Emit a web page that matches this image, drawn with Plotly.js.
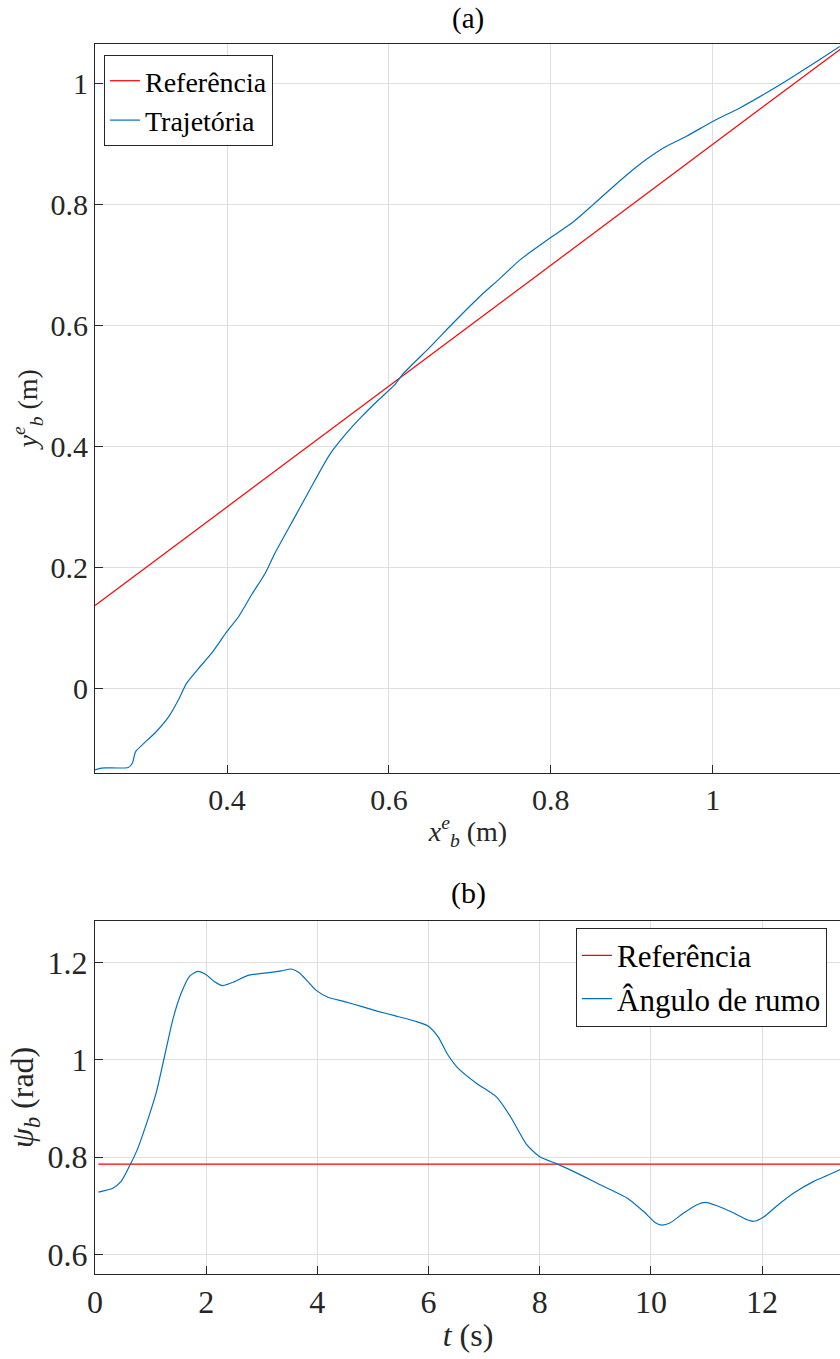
<!DOCTYPE html>
<html>
<head>
<meta charset="utf-8">
<script src="https://cdn.plot.ly/plotly-3.0.1.min.js"></script>
<style>
html,body{margin:0;padding:0;overflow:hidden;background:#fff;}
#chart{width:850px;height:1359px;}
</style>
</head>
<body>
<div id="chart"></div>
<script>
// (a) Trajectory in the plane
const refX = [0.2369, 1.1585];
const refY = [0.1369, 1.0585];
const trajX = [0.237,0.245,0.278,0.283,0.287,0.295,0.311,0.328,0.340,0.350,0.365,0.381,0.400,0.414,0.430,0.447,0.459,0.484,0.509,0.527,0.545,0.566,0.587,0.607,0.618,0.651,0.679,0.712,0.737,0.762,0.799,0.828,0.852,0.877,0.906,0.939,0.967,1.000,1.033,1.066,1.099,1.128,1.157];
const trajY = [-0.135,-0.132,-0.131,-0.124,-0.105,-0.094,-0.074,-0.047,-0.019,0.008,0.033,0.058,0.094,0.118,0.154,0.190,0.223,0.284,0.345,0.387,0.418,0.449,0.477,0.502,0.521,0.565,0.604,0.648,0.678,0.709,0.745,0.772,0.800,0.830,0.863,0.894,0.913,0.938,0.960,0.985,1.012,1.037,1.062];

// (b) Heading angle over time
const refT = [0.06, 13.42];
const refPsi = [0.7854, 0.7854];
const headT = [0.06,0.32,0.47,0.64,0.77,0.95,1.10,1.25,1.40,1.55,1.70,1.85,2.00,2.15,2.30,2.51,2.75,2.93,3.17,3.35,3.53,3.68,3.83,3.98,4.19,4.49,4.79,5.09,5.39,5.75,5.99,6.17,6.35,6.53,6.86,7.23,7.47,7.77,8.01,8.31,8.67,9.09,9.57,9.87,10.08,10.20,10.35,10.59,10.83,10.98,11.19,11.49,11.73,11.85,12.03,12.27,12.57,12.93,13.17,13.42];
const headPsi = [0.728,0.736,0.750,0.786,0.818,0.877,0.932,1.007,1.083,1.137,1.172,1.182,1.175,1.161,1.153,1.161,1.174,1.177,1.180,1.183,1.187,1.179,1.161,1.143,1.129,1.120,1.110,1.100,1.091,1.080,1.070,1.048,1.010,0.983,0.952,0.923,0.884,0.825,0.800,0.786,0.767,0.743,0.716,0.688,0.665,0.660,0.665,0.685,0.702,0.707,0.700,0.685,0.671,0.668,0.677,0.700,0.726,0.750,0.762,0.775];

const xTicksA = [0.4, 0.6, 0.8, 1];
const xTickTextA = ['0.4', '0.6', '0.8', '1'];
const yTicksA = [0, 0.2, 0.4, 0.6, 0.8, 1];
const yTickTextA = ['0', '0.2', '0.4', '0.6', '0.8', '1'];
const xTicksB = [0, 2, 4, 6, 8, 10, 12];
const yTicksB = [0.6, 0.8, 1, 1.2];
const yTickTextB = ['0.6', '0.8', '1', '1.2'];

const FONT = 'Liberation Serif';
const INK = '#262626';
const RED = '#ff0000';
const BLUE = '#0072bd';

const traces = [
  {x: refX, y: refY, mode: 'lines', name: 'Referência', line: {color: RED, width: 1.2}, xaxis: 'x', yaxis: 'y', legend: 'legend'},
  {x: trajX, y: trajY, mode: 'lines', name: 'Trajetória', line: {color: BLUE, width: 1.2, shape: 'spline', smoothing: 0.6}, xaxis: 'x', yaxis: 'y', legend: 'legend'},
  {x: refT, y: refPsi, mode: 'lines', name: 'Referência', line: {color: RED, width: 1.2}, xaxis: 'x2', yaxis: 'y2', legend: 'legend2'},
  {x: headT, y: headPsi, mode: 'lines', name: 'Ângulo de rumo', line: {color: BLUE, width: 1.2, shape: 'spline', smoothing: 0.6}, xaxis: 'x2', yaxis: 'y2', legend: 'legend2'}
];

function axisBase(size) {
  return {
    showline: true, linecolor: INK, linewidth: 1, mirror: true,
    ticks: 'inside', ticklen: 8, tickcolor: INK, tickwidth: 1,
    showgrid: true, gridcolor: '#dfdfdf', gridwidth: 1,
    zeroline: false, tickfont: {family: FONT, size: size, color: INK},
    fixedrange: true
  };
}

const H = 1359;
const layout = {
  width: 850, height: H,
  margin: {l: 95, r: 9, t: 0, b: 0},
  paper_bgcolor: '#fff', plot_bgcolor: '#fff',
  font: {family: FONT, color: INK},
  showlegend: true,
  xaxis: Object.assign(axisBase(30), {
    domain: [0, 1], anchor: 'y', range: [0.2369, 1.1585],
    tickmode: 'array', tickvals: xTicksA, ticktext: xTickTextA,
    title: {text: '<i>x</i><sup><i>e</i></sup><sub><i>b</i></sub> (m)', font: {family: FONT, size: 28, color: INK}, standoff: 6}
  }),
  yaxis: Object.assign(axisBase(30), {
    domain: [1 - 773 / H, 1 - 43.5 / H], anchor: 'x', range: [-0.1402, 1.067],
    tickmode: 'array', tickvals: yTicksA, ticktext: yTickTextA,
    title: {text: '<i>y</i><sup><i>e</i></sup><sub><i>b</i></sub> (m)', font: {family: FONT, size: 28, color: INK}, standoff: 4}
  }),
  xaxis2: Object.assign(axisBase(32), {
    domain: [0, 1], anchor: 'y2', range: [0, 13.42],
    tickmode: 'array', tickvals: xTicksB, ticktext: xTicksB.map(String),
    title: {text: '<i>t</i> (s)', font: {family: FONT, size: 32, color: INK}, standoff: 4}
  }),
  yaxis2: Object.assign(axisBase(32), {
    domain: [1 - 1273.7 / H, 1 - 921 / H], anchor: 'x2', range: [0.5601, 1.2858],
    tickmode: 'array', tickvals: yTicksB, ticktext: yTickTextB,
    title: {text: '<i>ψ</i><sub><i>b</i></sub> (rad)', font: {family: FONT, size: 32, color: INK}, standoff: 4}
  }),
  legend: {
    x: (104 - 95) / 746, y: 1 - 55 / H, xanchor: 'left', yanchor: 'top',
    bgcolor: '#fff', bordercolor: INK, borderwidth: 1,
    font: {family: FONT, size: 28, color: '#000'}, itemwidth: 30, tracegroupgap: 0
  },
  legend2: {
    x: (576 - 95) / 746, y: 1 - 927.7 / H, xanchor: 'left', yanchor: 'top',
    bgcolor: '#fff', bordercolor: INK, borderwidth: 1,
    font: {family: FONT, size: 31, color: '#000'}, itemwidth: 30, tracegroupgap: 0
  },
  annotations: [
    {text: '(a)', xref: 'paper', yref: 'paper', x: 0.5, y: 1 - 19 / H, xanchor: 'center', yanchor: 'middle', showarrow: false, font: {family: FONT, size: 29, color: '#000'}},
    {text: '(b)', xref: 'paper', yref: 'paper', x: 0.5, y: 1 - 893 / H, xanchor: 'center', yanchor: 'middle', showarrow: false, font: {family: FONT, size: 30, color: '#000'}}
  ]
};

Plotly.newPlot('chart', traces, layout, {displayModeBar: false, staticPlot: true});
</script>
</body>
</html>
